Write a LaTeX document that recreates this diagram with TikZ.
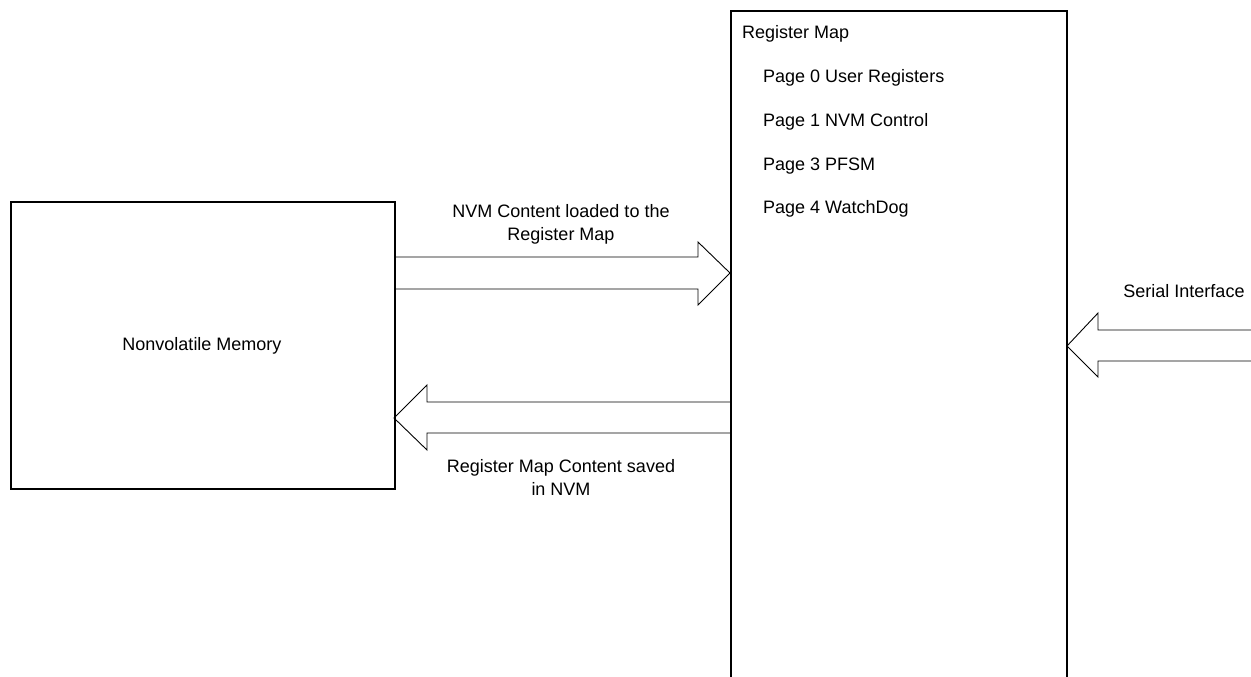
\documentclass[tikz,border=0pt]{standalone}
\usepackage{fontspec}
\setmainfont{Liberation Sans}
\begin{document}
\begin{tikzpicture}[x=1pt,y=-1pt,
  font=\fontsize{18}{23}\selectfont,
  box/.style={draw, line width=1.6pt, inner sep=0pt},
  blockarrow/.style={draw, line width=0.9pt, line join=miter},
  lbl/.style={inner sep=0pt, anchor=base}]
\clip (0,0) rectangle (1251,677);
\fill[white] (0,0) rectangle (1251,677);
% block arrows
\coordinate (a1t) at (730,273);
\draw[blockarrow] (394,257) -- (698,257) -- (698,242) -- (a1t) -- (698,305) -- (698,289) -- (394,289);
\coordinate (a2t) at (394,418);
\draw[blockarrow] (730,402) -- (427,402) -- (427,385) -- (a2t) -- (427,450) -- (427,433) -- (730,433);
\coordinate (a3t) at (1067,346);
\draw[blockarrow] (1260,330) -- (1098,330) -- (1098,313) -- (a3t) -- (1098,377) -- (1098,361) -- (1260,361);
% boxes
\node[box, minimum width=384pt, minimum height=287pt, anchor=north west] (nvm) at (10,201) {};
\node[inner sep=0pt, anchor=base] (nvmtext) at (202,350) {Nonvolatile Memory};
\node[box, minimum width=336pt, minimum height=700pt, anchor=north west] (reg) at (730,10) {};
\node[lbl, anchor=base west] (regtitle) at (742,39) {Register Map};
\node[lbl, anchor=base west] (p0) at (763,82) {Page 0 User Registers};
\node[lbl, anchor=base west] (p1) at (763,126) {Page 1 NVM Control};
\node[lbl, anchor=base west] (p3) at (763,170) {Page 3 PFSM};
\node[lbl, anchor=base west] (p4) at (763,213) {Page 4 WatchDog};
% labels
\node[lbl] (l1a) at (561,217) {NVM Content loaded to the};
\node[lbl] (l1b) at (561,240) {Register Map};
\node[lbl] (l2a) at (561,472) {Register Map Content saved};
\node[lbl] (l2b) at (561,495) {in NVM};
\node[lbl] (l3) at (1184,297) {Serial Interface};
\end{tikzpicture}
\end{document}
